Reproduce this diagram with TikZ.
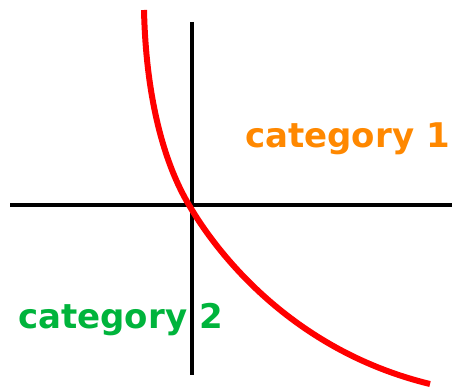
\documentclass[tikz,border=0pt]{standalone}
\usepackage{fontspec}
\setmainfont{DejaVu Sans}
\definecolor{catorange}{RGB}{255,136,0}
\definecolor{catgreen}{RGB}{0,180,60}
\begin{document}
\begin{tikzpicture}[x=1pt,y=-1pt,
  axis/.style={line width=4pt,black},
  curve/.style={line width=6pt,red},
  lab/.style={font=\fontsize{34}{36}\selectfont\bfseries,anchor=base west,inner sep=0pt}]
\useasboundingbox (0,0) rectangle (452,387);
\coordinate (xl) at (10,205);
\coordinate (xr) at (452,205);
\coordinate (yt) at (192,22);
\coordinate (yb) at (192,375);
\coordinate (cs) at (144,10);
\coordinate (cm) at (189,205);
\coordinate (ce) at (430,384);
\draw[axis] (xl) -- (xr);
\draw[axis] (yt) -- (yb);
\draw[curve] (cs) .. controls (146,100) and (165,165) .. (cm)
  .. controls (215,250) and (290,350) .. (ce);
\node[lab,text=catorange] (c1) at (245,148) {category 1};
\node[lab,text=catgreen] (c2) at (18,328) {category 2};
\end{tikzpicture}
\end{document}
